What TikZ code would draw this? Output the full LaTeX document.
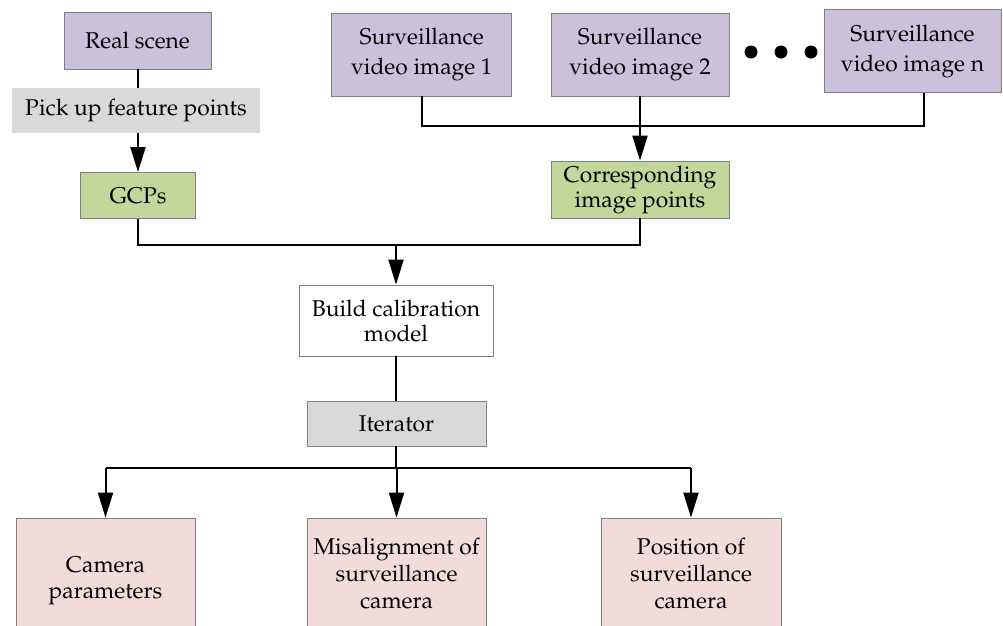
\documentclass[tikz,border=0pt]{standalone}
\usepackage[T1]{fontenc}
\usepackage{mathpazo}
\usetikzlibrary{arrows.meta}
\definecolor{cpurple}{HTML}{CCC1DA}
\definecolor{cgreen}{HTML}{C3D69B}
\definecolor{cpink}{HTML}{F2DCDB}
\definecolor{cgray}{HTML}{D9D9D9}
\definecolor{cborder}{HTML}{7F7F7F}
\tikzset{
  box/.style={draw=cborder, line width=0.8pt, align=center, inner sep=0pt,
    font=\fontsize{22.8}{26}\selectfont},
  purplebox/.style={box, fill=cpurple},
  greenbox/.style={box, fill=cgreen},
  pinkbox/.style={box, fill=cpink},
  graybox/.style={box, fill=cgray},
  conn/.style={line width=2pt, black},
  arr/.style={conn, -{Triangle[length=25pt,width=15pt]}},
}
\begin{document}
\begin{tikzpicture}[x=1pt,y=-1pt]
\useasboundingbox (0,0) rectangle (1003,625);
\fill[white] (0,0) rectangle (1003,625);
% top row
\node[purplebox, minimum width=147pt, minimum height=57pt] (real) at (137.5,40.5) {Real scene};
\node[graybox, draw=none, minimum width=248pt, minimum height=45pt] (pick) at (136,110.5) {Pick up feature points};
\node[greenbox, minimum width=115pt, minimum height=46pt] (gcp) at (138,195.5) {GCPs};
\node[purplebox, minimum width=180pt, minimum height=83pt, font=\fontsize{22.8}{30}\selectfont] (s1) at (421.7,54.5) {Surveillance\\video image 1};
\node[purplebox, minimum width=178pt, minimum height=83pt, font=\fontsize{22.8}{30}\selectfont] (s2) at (640,54.5) {Surveillance\\video image 2};
\node[purplebox, minimum width=177pt, minimum height=83pt, font=\fontsize{22.8}{30}\selectfont] (sn) at (912.5,51.3) {Surveillance\\video image n};
\node[greenbox, minimum width=178pt, minimum height=57pt, font=\fontsize{22.8}{25}\selectfont] (corr) at (640,189.5) {Corresponding\\image points};
\node[box, fill=white, minimum width=194pt, minimum height=71pt, font=\fontsize{22.8}{25}\selectfont] (build) at (396,320.5) {Build calibration\\model};
\node[graybox, minimum width=179pt, minimum height=45pt] (iter) at (396.5,423.5) {Iterator};
\node[pinkbox, minimum width=179pt, minimum height=110pt, font=\fontsize{22.8}{26}\selectfont] (cam) at (105.5,573) {\rule{0pt}{31pt}Camera\\parameters};
\node[pinkbox, minimum width=179pt, minimum height=110pt, font=\fontsize{22.8}{27}\selectfont] (mis) at (396.5,573) {Misalignment of\\surveillance\\camera};
\node[pinkbox, minimum width=180pt, minimum height=110pt, font=\fontsize{22.8}{27}\selectfont] (pos) at (691,573) {Position of\\surveillance\\camera};
% dots
\foreach \dx [count=\i] in {751,781,811} \fill (\dx,52) circle (6.5pt) coordinate (dot\i);
% coordinates
\coordinate (r1) at (137.5,0);
\coordinate (b1) at (421.7,126);
\coordinate (b2) at (640,126);
\coordinate (bnTop) at (924,92.7);
\coordinate (bn) at (924,126);
\coordinate (g1) at (138,245);
\coordinate (g2) at (640,245);
\coordinate (gm) at (396,245);
\coordinate (im) at (396.5,468);
\coordinate (i1) at (105.5,468);
\coordinate (i3) at (691,468);
% connectors
\draw[conn] (real.south -| r1) -- (pick.north -| r1);
\draw[arr] (pick.south -| g1) -- (gcp.north -| g1);
\draw[conn] (s1.south -| b1) -- (b1) -- (bn) -- (bnTop);
\draw[arr] (s2) -- (corr);
\draw[conn] (gcp.south -| g1) -- (g1) -- (g2) -- (corr.south -| g2);
\draw[arr] (gm) -- (build.north -| gm);
\draw[conn] (build.south -| gm) -- (iter.north -| gm);
\draw[conn] (iter.south -| gm) -- (gm |- im);
\draw[conn] (i1) -- (i3);
\draw[arr] (i1) -- (cam);
\draw[arr] (im) -- (mis);
\draw[arr] (i3) -- (pos);
\end{tikzpicture}
\end{document}
